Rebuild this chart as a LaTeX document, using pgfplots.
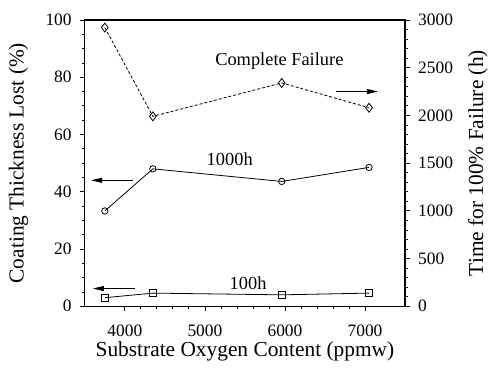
\documentclass[border=0pt]{standalone}
\usepackage{pgfplots}
\pgfplotsset{compat=1.18}
\usepackage{fontspec}
\setmainfont{Liberation Serif}
\newfontfamily\tickfont{Liberation Serif}
\usetikzlibrary{arrows.meta}

\begin{document}
\begin{tikzpicture}
\pgfplotsset{
  every axis/.append style={
    at={(0,0)}, anchor=south west,
    scale only axis, width=321bp, height=287bp,
    xmin=3500, xmax=7500,
    tick align=outside,
    major tick length=5bp, minor tick length=2.5bp,
    every tick/.style={black, line width=0.8pt},
    axis line style={line width=1.2pt},
    tick label style={font=\tickfont\fontsize{17.5}{20}\selectfont},
    label style={font=\fontsize{21.5}{25}\selectfont},
    /pgf/number format/assume math mode=true,
    /pgf/number format/1000 sep={},
  }
}
\begin{axis}[
  ymin=0, ymax=100,
  xtick={4000,5000,6000,7000},
  minor x tick num=4,
  ytick={0,20,40,60,80,100},
  minor y tick num=3,
  xtick pos=bottom, ytick pos=left,
  xlabel={Substrate Oxygen Content (ppmw)},
  ylabel={Coating Thickness Lost (\%)},
  xlabel style={at={([yshift=-45bp]axis description cs:0.5,0)}, anchor=center},
  ylabel style={at={([xshift=-66.5bp]axis description cs:0,0.5)}, anchor=center},
  yticklabel style={anchor=east, inner sep=0pt, xshift=-8bp},
  xticklabel style={anchor=center, inner sep=0pt, yshift=-20bp},
]
\addplot[black, line width=0.8pt, mark=o, mark size=3.2bp, mark options={solid, line width=0.8pt}]
  coordinates {(3750,33.3) (4350,48) (5960,43.6) (7050,48.5)};
\addplot[black, line width=0.8pt, mark=square, mark size=3.5bp, mark options={solid, line width=0.8pt}]
  coordinates {(3750,3.0) (4350,4.6) (5960,4.0) (7050,4.6)};
\node[font=\fontsize{18.5}{21}\selectfont] at (axis cs:5930,85.6) {Complete Failure};
\node[font=\fontsize{18.5}{21}\selectfont] at (axis cs:5310,51.3) {1000h};
\node[font=\fontsize{18.5}{21}\selectfont] at (axis cs:5540,8.2) {100h};
\draw[-{Triangle[length=11bp,width=5bp]}, line width=0.8pt] (axis cs:4100,44) -- (axis cs:3580,44);
\draw[-{Triangle[length=11bp,width=5bp]}, line width=0.8pt] (axis cs:4130,6.2) -- (axis cs:3600,6.2);
\draw[-{Triangle[length=11bp,width=5bp]}, line width=0.8pt] (axis cs:6640,75) -- (axis cs:7160,75);
\end{axis}
\begin{axis}[
  ymin=0, ymax=3000,
  axis x line=none,
  axis y line*=right,
  ytick={0,500,1000,1500,2000,2500,3000},
  minor y tick num=4,
  ylabel={Time for 100\% Failure (h)},
  ylabel style={at={([xshift=73bp]axis description cs:1,0.5)}, anchor=center},
  yticklabel style={anchor=west, inner sep=0pt, xshift=8bp},
]
\addplot[black, line width=0.8pt, densely dashed, mark=diamond, mark size=4.5bp, mark options={solid, line width=0.8pt}]
  coordinates {(3750,2920) (4350,1990) (5960,2340) (7050,2080)};
\end{axis}
\path[use as bounding box] (-85bp,-63bp) rectangle (406bp,307bp);
\end{tikzpicture}
\end{document}
